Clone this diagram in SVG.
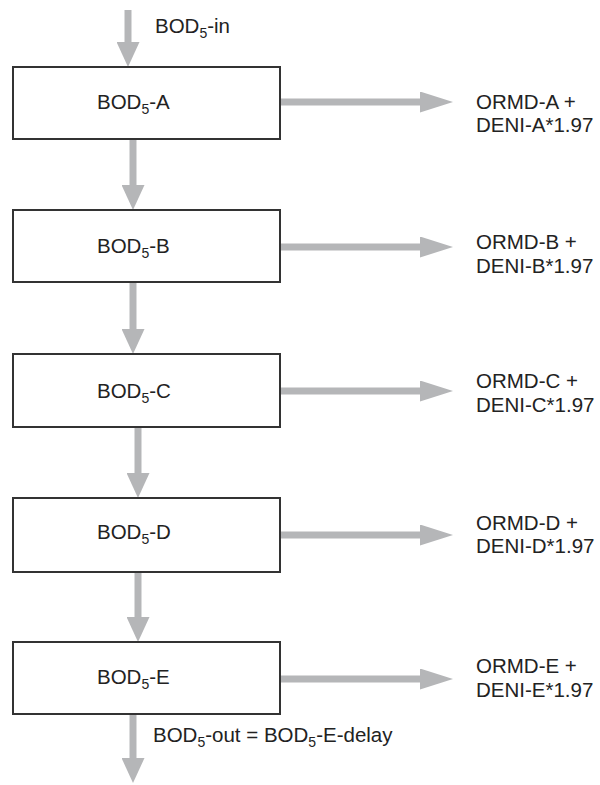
<svg xmlns="http://www.w3.org/2000/svg" width="600" height="785" viewBox="0 0 600 785">
<style>
.box{fill:#fff;stroke:#333;stroke-width:2}
.arr{stroke:#b5b6b8;stroke-width:7;fill:none}
text{font-family:"Liberation Sans",Arial,sans-serif;font-size:20.5px;fill:#222}
.sub{font-size:14px}
</style>
<defs>
<marker id="hv" markerUnits="userSpaceOnUse" markerWidth="25" markerHeight="23" refX="5" refY="11.5" orient="auto" viewBox="0 0 25 23">
<path d="M0,0 L25,11.5 L0,23 z" fill="#b5b6b8"/>
</marker>
<marker id="hh" markerUnits="userSpaceOnUse" markerWidth="33" markerHeight="21" refX="13" refY="10.5" orient="auto" viewBox="0 0 33 21">
<path d="M0,0 L33,10.5 L0,21 z" fill="#b5b6b8"/>
</marker>
</defs>
<g id="connectors">
<line class="arr" x1="128" y1="10" x2="128" y2="47" marker-end="url(#hv)"/>
<line class="arr" x1="133" y1="139" x2="133" y2="190" marker-end="url(#hv)"/>
<line class="arr" x1="133" y1="282" x2="133" y2="334" marker-end="url(#hv)"/>
<line class="arr" x1="138" y1="427" x2="138" y2="478" marker-end="url(#hv)"/>
<line class="arr" x1="138" y1="572" x2="138" y2="622" marker-end="url(#hv)"/>
<line class="arr" x1="133" y1="714" x2="133" y2="763" marker-end="url(#hv)"/>
<line class="arr" x1="280" y1="102" x2="433" y2="102" marker-end="url(#hh)"/>
<line class="arr" x1="280" y1="247" x2="433" y2="247" marker-end="url(#hh)"/>
<line class="arr" x1="280" y1="391" x2="433" y2="391" marker-end="url(#hh)"/>
<line class="arr" x1="280" y1="535" x2="433" y2="535" marker-end="url(#hh)"/>
<line class="arr" x1="280" y1="679" x2="433" y2="679" marker-end="url(#hh)"/>
<text x="155" y="33">BOD<tspan class="sub" dy="5">5</tspan><tspan dy="-5">-in</tspan></text>
<text x="153" y="742">BOD<tspan class="sub" dy="5">5</tspan><tspan dy="-5">-out = BOD</tspan><tspan class="sub" dy="5">5</tspan><tspan dy="-5">-E-delay</tspan></text>
</g>
<g id="nodeA">
<rect class="box" x="13" y="67" width="267" height="72"/>
<text x="97" y="109">BOD<tspan class="sub" dy="5">5</tspan><tspan dy="-5">-A</tspan></text>
</g>
<g id="nodeB">
<rect class="box" x="13" y="210" width="267" height="72"/>
<text x="97" y="253">BOD<tspan class="sub" dy="5">5</tspan><tspan dy="-5">-B</tspan></text>
</g>
<g id="nodeC">
<rect class="box" x="13" y="354" width="267" height="73"/>
<text x="97" y="398">BOD<tspan class="sub" dy="5">5</tspan><tspan dy="-5">-C</tspan></text>
</g>
<g id="nodeD">
<rect class="box" x="13" y="498" width="267" height="74"/>
<text x="97" y="539">BOD<tspan class="sub" dy="5">5</tspan><tspan dy="-5">-D</tspan></text>
</g>
<g id="nodeE">
<rect class="box" x="13" y="642" width="267" height="72"/>
<text x="97" y="684">BOD<tspan class="sub" dy="5">5</tspan><tspan dy="-5">-E</tspan></text>
</g>
<g id="outA"><text x="476" y="109">ORMD-A +</text><text x="476" y="132">DENI-A*1.97</text></g>
<g id="outB"><text x="476" y="249">ORMD-B +</text><text x="476" y="273">DENI-B*1.97</text></g>
<g id="outC"><text x="476" y="388">ORMD-C +</text><text x="476" y="412">DENI-C*1.97</text></g>
<g id="outD"><text x="476" y="530">ORMD-D +</text><text x="476" y="553">DENI-D*1.97</text></g>
<g id="outE"><text x="476" y="673">ORMD-E +</text><text x="476" y="697">DENI-E*1.97</text></g>
</svg>
